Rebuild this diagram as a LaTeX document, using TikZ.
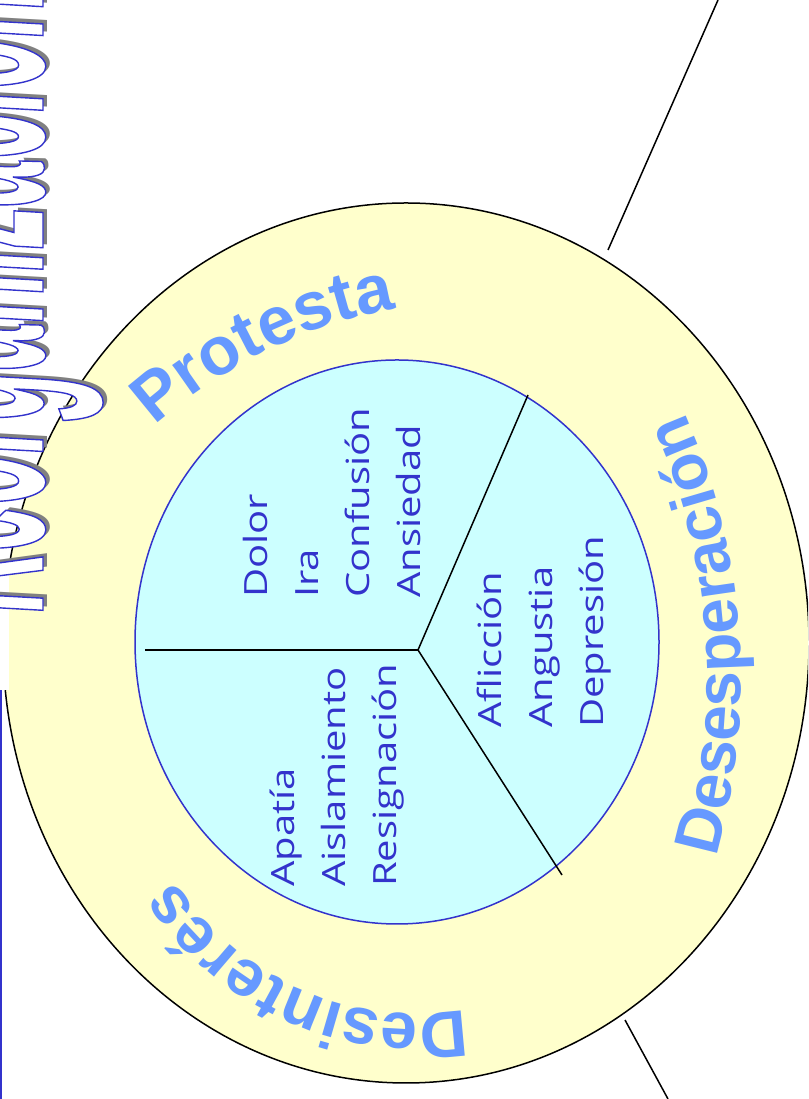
\documentclass[tikz,border=0pt]{standalone}
\usepackage{fontspec}
\usepackage{tikz}
\usetikzlibrary{shapes.geometric,decorations.text}
\setmainfont{Liberation Sans}
\newfontfamily\handfont[FakeStretch=1.25]{Open Sans}
\newfontfamily\titlefont[FakeStretch=0.29]{Liberation Sans}
\definecolor{ringyellow}{HTML}{FFFFCC}
\definecolor{corecyan}{HTML}{CCFFFF}
\definecolor{inkblue}{HTML}{3333CC}
\definecolor{stageblue}{HTML}{6699FF}
\newcommand\stagefont[1]{\fontsize{#1}{#1}\selectfont\bfseries}
\newcommand\titletext{\titlefont\bfseries\itshape\fontsize{290}{290}\selectfont Reorganización}

\begin{document}
\begin{tikzpicture}
  [x=1pt, y=1pt,
   ring/.style={ellipse, draw=black, line width=1.5pt, fill=ringyellow, inner sep=0,
                minimum width=806, minimum height=880},
   core/.style={ellipse, draw=inkblue, line width=1.5pt, fill=corecyan, inner sep=0,
                minimum width=524, minimum height=564},
   divider/.style={black, line width=1.5pt},
   feelings/.style={rotate=90, anchor=north west, align=left, inner sep=0, text=inkblue,
                    font=\handfont\fontsize{32}{51}\selectfont}]
  \useasboundingbox (0,0) rectangle (808,1099);
  \clip (0,0) rectangle (808,1099);

  \coordinate (leadNa) at (608,849);
  \coordinate (leadNb) at (718,1099);
  \coordinate (leadSa) at (625,79);
  \coordinate (leadSb) at (668,0);
  \draw[divider] (leadNa) -- (leadNb);
  \draw[divider] (leadSa) -- (leadSb);

  \node[ring] (ring) at (406,456) {};
  \node[core] (core) at (397,457) {};

  \coordinate (hub) at (418,449);
  \coordinate (cutW) at (145,449);
  \coordinate (cutNE) at (528,704);
  \coordinate (cutSE) at (562,224);
  \draw[divider] (hub) -- (cutW);
  \draw[divider] (hub) -- (cutNE);
  \draw[divider] (hub) -- (cutSE);

  \node[feelings] (protestlist) at (243,501) {Dolor\\Ira\\Confusión\\Ansiedad};
  \node[feelings] (despairlist) at (477,371) {Aflicción\\Angustia\\Depresión};
  \node[feelings] (detachlist) at (270,212) {Apatía\\Aislamiento\\Resignación};

  \path[decorate, decoration={text along path, text align=center, text color=stageblue,
        text={|\stagefont{68}|Protesta}}]
    ([shift={(133:490)}]482,308) arc[start angle=133, end angle=99, radius=490];
  \path[decorate, decoration={text along path, text align=center, text color=stageblue,
        text={|\stagefont{64}|Desesperación}}]
    ([shift={(-17:653)}]88,421) arc[start angle=-17, end angle=25, radius=653];
  \path[decorate, decoration={text along path, text align=center, text color=stageblue,
        text={|\stagefont{66}|Desinterés}}]
    ([shift={(-79:284)}]416,369) arc[start angle=-79, end angle=-149, radius=284];

  \coordinate (edgeA) at (1,0);
  \coordinate (edgeB) at (1,409);
  \fill[white] (0,409) rectangle (9,1099);
  \draw[inkblue, line width=2pt] (edgeA) -- (edgeB);

  \node[rotate=90, anchor=base west, inner sep=0, text=gray] (titleshadow) at (47,490) {\titletext};
  \node[rotate=90, anchor=base west, inner sep=0, text=white] (title) at (43,487)
    {\special{pdf:literal 2 Tr 1.4 w 0.2 0.2 0.8 RG}\titletext\special{pdf:literal 0 Tr}};
\end{tikzpicture}
\end{document}
